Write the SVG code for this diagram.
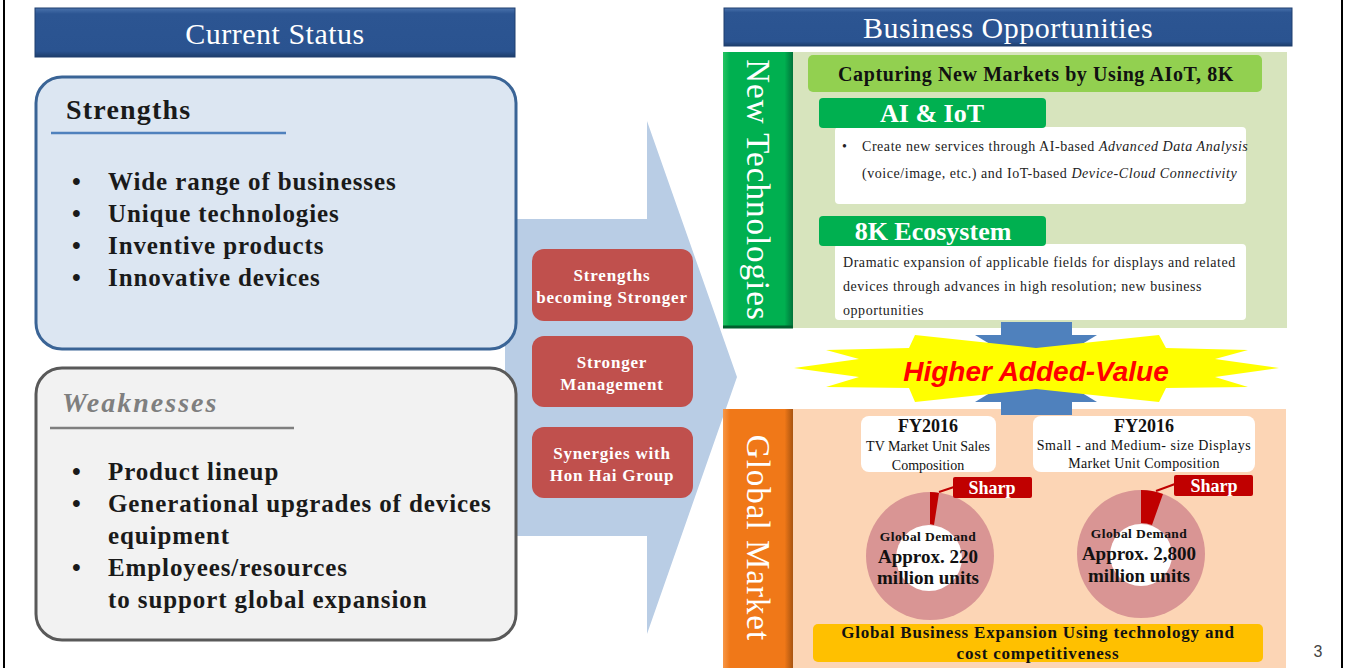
<svg xmlns="http://www.w3.org/2000/svg" width="1349" height="668" viewBox="0 0 1349 668">
<style>
.serif{font-family:"Liberation Serif","Times New Roman",serif}
.hdr{font-family:"Liberation Serif",serif;font-size:30px;fill:#fff;text-anchor:middle;letter-spacing:0.5px}
.bul{font-family:"Liberation Serif",serif;font-size:25px;font-weight:bold;fill:#1a1a1a;letter-spacing:0.9px}
.red{font-family:"Liberation Serif",serif;font-size:17px;font-weight:bold;fill:#fff;text-anchor:middle;letter-spacing:0.8px}
.small{font-family:"Liberation Serif",serif;font-size:14px;fill:#222;letter-spacing:0.55px}
.tab{font-family:"Liberation Serif",serif;font-size:26px;font-weight:bold;fill:#fff;text-anchor:middle}
.vert{font-family:"Liberation Serif",serif;font-size:33px;fill:#fff;text-anchor:middle;letter-spacing:1px}
.fy{font-family:"Liberation Serif",serif;fill:#111;text-anchor:middle}
.sharp{font-family:"Liberation Serif",serif;font-size:18px;font-weight:bold;fill:#fff;text-anchor:middle}
</style>
<defs>
<linearGradient id="hdrg" x1="0" y1="0" x2="0" y2="1">
<stop offset="0" stop-color="#4a73ad"/><stop offset="0.12" stop-color="#2c5592"/><stop offset="0.88" stop-color="#2a5390"/><stop offset="1" stop-color="#1d3d6b"/>
</linearGradient>
<linearGradient id="grg" x1="0" y1="0" x2="1" y2="0">
<stop offset="0" stop-color="#26c463"/><stop offset="0.1" stop-color="#00b050"/><stop offset="0.88" stop-color="#00b050"/><stop offset="1" stop-color="#00733a"/>
</linearGradient>
<linearGradient id="org" x1="0" y1="0" x2="1" y2="0">
<stop offset="0" stop-color="#f79646"/><stop offset="0.1" stop-color="#f07818"/><stop offset="0.88" stop-color="#f07818"/><stop offset="1" stop-color="#a85410"/>
</linearGradient>
</defs>

<rect x="0" y="0" width="1349" height="668" fill="#fff"/>
<line x1="4" y1="0" x2="4" y2="668" stroke="#000" stroke-width="2"/>
<line x1="1342" y1="0" x2="1342" y2="668" stroke="#000" stroke-width="2"/>

<g id="big-arrow">
<polygon points="505,219 647,219 647,121 737,377 647,634 647,536 505,536" fill="#b9cde5"/>
</g>

<g id="hdr-current">
<rect x="35" y="8" width="480" height="49" fill="url(#hdrg)" stroke="#1f3f6e" stroke-width="1"/>
<text class="hdr" x="275" y="44">Current Status</text>
</g>

<g id="strengths">
<rect x="36" y="77" width="480" height="272" rx="26" fill="#dce6f2" stroke="#3a6496" stroke-width="3"/>
<text class="serif" x="66" y="119" font-size="28" font-weight="bold" fill="#1a1a1a" letter-spacing="1.2">Strengths</text>
<line x1="51" y1="133" x2="286" y2="133" stroke="#4f81bd" stroke-width="2.5"/>
<g class="bul">
<text x="72" y="190">•</text><text x="108" y="190">Wide range of  businesses</text>
<text x="72" y="222">•</text><text x="108" y="222">Unique technologies</text>
<text x="72" y="254">•</text><text x="108" y="254">Inventive products</text>
<text x="72" y="286">•</text><text x="108" y="286">Innovative devices</text>
</g>
</g>

<g id="weaknesses">
<rect x="36" y="368" width="480" height="272" rx="26" fill="#f2f2f2" stroke="#595959" stroke-width="3"/>
<text class="serif" x="62" y="412" font-size="28" font-weight="bold" font-style="italic" fill="#7f7f7f" letter-spacing="2">Weaknesses</text>
<line x1="50" y1="428" x2="294" y2="428" stroke="#7f7f7f" stroke-width="2.5"/>
<g class="bul">
<text x="72" y="480">•</text><text x="108" y="480">Product lineup</text>
<text x="72" y="512">•</text><text x="108" y="512">Generational upgrades of  devices</text>
<text x="108" y="544">equipment</text>
<text x="72" y="576">•</text><text x="108" y="576">Employees/resources</text>
<text x="108" y="608">to support global expansion</text>
</g>
</g>

<g id="red-boxes">
<rect x="532" y="249" width="161" height="72" rx="12" fill="#c0504d"/>
<text class="red" x="612" y="281">Strengths</text>
<text class="red" x="612" y="303">becoming Stronger</text>
<rect x="532" y="336" width="161" height="71" rx="12" fill="#c0504d"/>
<text class="red" x="612" y="368">Stronger</text>
<text class="red" x="612" y="390">Management</text>
<rect x="532" y="427" width="161" height="71" rx="12" fill="#c0504d"/>
<text class="red" x="612" y="459">Synergies with</text>
<text class="red" x="612" y="481">Hon Hai Group</text>
</g>

<g id="hdr-business">
<rect x="724" y="8" width="568" height="38" fill="url(#hdrg)" stroke="#1f3f6e" stroke-width="1"/>
<text class="hdr" x="1008" y="38">Business Opportunities</text>
</g>

<g id="new-tech">
<rect x="793" y="52" width="494" height="276" fill="#d7e4bd"/>
<rect x="723" y="52" width="70" height="276" fill="url(#grg)"/>
<line x1="723" y1="327" x2="793" y2="327" stroke="#00602e" stroke-width="3"/>
<text class="vert" transform="translate(758,190) rotate(90)" x="0" y="11">New Technologies</text>
</g>

<g id="capturing">
<rect x="808" y="55" width="454" height="37" rx="5" fill="#92d050"/>
<text class="serif" x="1036" y="81" font-size="20" font-weight="bold" fill="#111" text-anchor="middle" letter-spacing="0.6">Capturing New Markets by Using AIoT, 8K</text>
</g>

<g id="ai-iot">
<rect x="835" y="127" width="411" height="77" rx="4" fill="#fff"/>
<rect x="819" y="98" width="227" height="30" rx="4" fill="#00b050"/>
<text class="tab" x="932" y="122">AI &amp; IoT</text>
<text class="small" x="842" y="151">•</text>
<text class="small" x="862" y="151">Create new services through AI-based <tspan font-style="italic">Advanced Data Analysis</tspan></text>
<text class="small" x="862" y="178">(voice/image, etc.) and IoT-based <tspan font-style="italic">Device-Cloud Connectivity</tspan></text>
</g>

<g id="eco-8k">
<rect x="835" y="244" width="411" height="76" rx="4" fill="#fff"/>
<rect x="819" y="216" width="227" height="30" rx="4" fill="#00b050"/>
<text class="tab" x="933" y="240" font-weight="normal">8K Ecosystem</text>
<text class="small" x="843" y="267">Dramatic expansion of  applicable fields for displays and related</text>
<text class="small" x="843" y="291">devices through advances in high resolution; new business</text>
<text class="small" x="843" y="315">opportunities</text>
</g>

<g id="global-market">
<rect x="793" y="409" width="493" height="259" fill="#fcd5b5"/>
<rect x="723" y="409" width="70" height="259" fill="url(#org)"/>
<text class="vert" transform="translate(758,538) rotate(90)" x="0" y="11">Global Market</text>
</g>

<g id="connectors">
<g id="arrow-down">
<rect x="1001" y="322" width="71" height="16" fill="#4f81bd"/>
<polygon points="975,335 1097,335 1036,372" fill="#4f81bd"/>
</g>
<g id="arrow-up">
<rect x="1001" y="398" width="71" height="17" fill="#4f81bd"/>
<polygon points="975,402 1097,402 1036,365" fill="#4f81bd"/>
</g>
</g>

<g id="higher-added-value">
<polygon points="794,368 859,359 826,350 909,348 915,335 1036,348 1159,335 1166,348 1248,350 1215,359 1279,368 1215,377 1248,387 1166,388 1159,402 1036,389 915,402 909,388 826,387 859,377" fill="#ffff00"/>
<text x="1036" y="381" font-family="'Liberation Sans',Arial,sans-serif" font-size="28" font-weight="bold" font-style="italic" fill="#ff0000" text-anchor="middle">Higher Added-Value</text>
</g>

<g id="fy-tv">
<rect x="861" y="416" width="135" height="56" rx="8" fill="#fff"/>
<text class="fy" x="928" y="432" font-size="18" font-weight="bold">FY2016</text>
<text class="fy" x="928" y="451" font-size="14">TV Market Unit Sales</text>
<text class="fy" x="928" y="470" font-size="14">Composition</text>
</g>

<g id="fy-small">
<rect x="1033" y="416" width="222" height="56" rx="8" fill="#fff"/>
<text class="fy" x="1144" y="432" font-size="18" font-weight="bold">FY2016</text>
<text class="fy" x="1144" y="450" font-size="14" letter-spacing="0.5">Small - and Medium- size Displays</text>
<text class="fy" x="1144" y="468" font-size="14" letter-spacing="0.3">Market Unit Composition</text>
</g>

<g id="donut-tv">
<circle cx="930" cy="556" r="64" fill="#d99594"/>
<path d="M930,492 A64,64 0 0,1 939,493 L934,525 A33,33 0 0,0 930,524 Z" fill="#c00000"/>
<circle cx="929" cy="558" r="33" fill="#fff"/>
<line x1="939" y1="492" x2="954" y2="487" stroke="#c00000" stroke-width="2"/>
<rect x="953" y="477" width="79" height="21" rx="2" fill="#c00000"/>
<text class="sharp" x="992" y="494">Sharp</text>
<text class="fy" x="928" y="541" font-size="13.5" font-weight="bold" letter-spacing="0.4">Global Demand</text>
<text class="fy" x="928" y="563" font-size="19" font-weight="bold">Approx. 220</text>
<text class="fy" x="928" y="584" font-size="19" font-weight="bold">million units</text>
</g>

<g id="donut-small">
<circle cx="1141" cy="554" r="64" fill="#d99594"/>
<path d="M1141,490 A64,64 0 0,1 1163,494 L1152,525 A31,31 0 0,0 1141,523 Z" fill="#c00000"/>
<circle cx="1141" cy="555" r="31" fill="#fff"/>
<line x1="1156" y1="491" x2="1175" y2="484" stroke="#c00000" stroke-width="2"/>
<rect x="1174" y="475" width="79" height="21" rx="2" fill="#c00000"/>
<text class="sharp" x="1214" y="492">Sharp</text>
<text class="fy" x="1139" y="538" font-size="13.5" font-weight="bold" letter-spacing="0.4">Global Demand</text>
<text class="fy" x="1139" y="560" font-size="19" font-weight="bold">Approx. 2,800</text>
<text class="fy" x="1139" y="582" font-size="19" font-weight="bold">million units</text>
</g>

<g id="expansion">
<rect x="813" y="624" width="450" height="38" rx="5" fill="#ffc000"/>
<text class="fy" x="1038" y="638" font-size="17" font-weight="bold" letter-spacing="0.8">Global Business Expansion Using technology and</text>
<text class="fy" x="1038" y="659" font-size="17" font-weight="bold" letter-spacing="0.8">cost competitiveness</text>
</g>

<text x="1318" y="657" font-family="'Liberation Sans',Arial,sans-serif" font-size="16" fill="#444" text-anchor="middle">3</text>
</svg>
